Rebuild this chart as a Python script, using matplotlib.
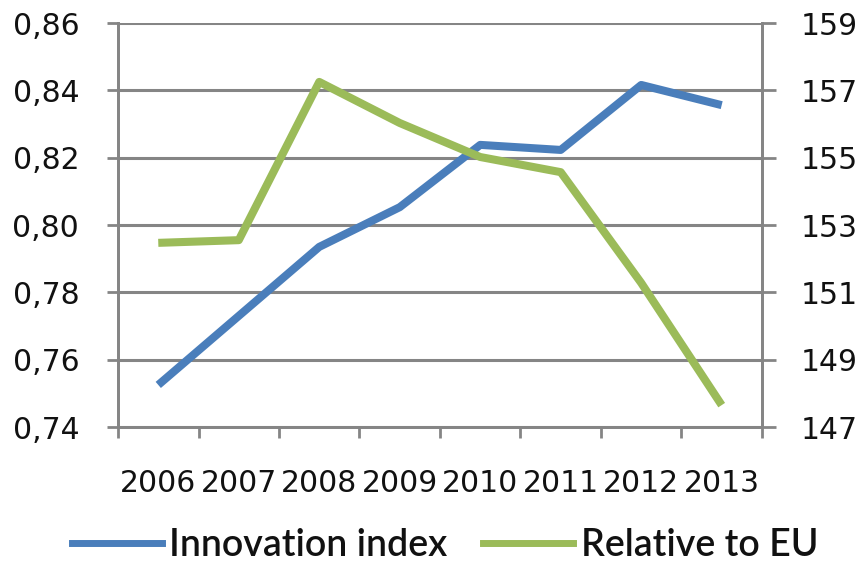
import matplotlib
matplotlib.use("Agg")
from matplotlib import pyplot as plt
from matplotlib.lines import Line2D

# data
years = ["2006", "2007", "2008", "2009", "2010", "2011", "2012", "2013"]
innovation_index = [0.7525, 0.7730, 0.7935, 0.8053, 0.8238, 0.8223, 0.8416, 0.8356]
relative_to_eu = [152.47, 152.55, 157.25, 156.03, 155.02, 154.57, 151.28, 147.65]

left_ticks = [0.74, 0.76, 0.78, 0.80, 0.82, 0.84, 0.86]
right_ticks = [147, 149, 151, 153, 155, 157, 159]

blue = "#4a7ebb"
green = "#9bbb59"
grid_gray = "#858585"
text_col = "#111111"

plt.rcParams['font.family'] = ['DejaVu Sans']

fig = plt.figure(figsize=(8.59, 5.64), dpi=100)
ax = fig.add_axes([0.1374, 0.2429, 0.7496, 0.7163])
ax2 = ax.twinx()

x = [i + 0.5 for i in range(len(years))]

ax.set_xlim(0, len(years))
ax.set_ylim(left_ticks[0], left_ticks[-1])
ax2.set_ylim(right_ticks[0], right_ticks[-1])

# gridlines
for v in left_ticks:
    ax.axhline(v, color=grid_gray, lw=2.2, zorder=1)

ax.plot(x, innovation_index, color=blue, lw=5.8, solid_capstyle="butt", zorder=3)
ax2.plot(x, relative_to_eu, color=green, lw=5.8, solid_capstyle="butt", zorder=3)

# ticks
ax.set_yticks(left_ticks)
ax.set_yticklabels(["{:.2f}".format(v).replace(".", ",") for v in left_ticks])
ax2.set_yticks(right_ticks)
ax2.set_yticklabels([str(v) for v in right_ticks])

ax.set_xticks(range(len(years) + 1))
ax.set_xticklabels([])
ax.set_xticks(x, minor=True)
ax.set_xticklabels(years, minor=True)

ax.tick_params(axis="y", length=8, width=2, color=grid_gray, pad=20,
               labelsize=21.5, labelcolor=text_col)
ax2.tick_params(axis="y", length=10, width=2, color=grid_gray, pad=18,
                labelsize=21.5, labelcolor=text_col)
ax.tick_params(axis="x", which="major", length=8, width=2, color=grid_gray)
ax.tick_params(axis="x", which="minor", length=0, pad=30, labelsize=21.5,
               labelcolor=text_col)

for a in (ax, ax2):
    a.spines["top"].set_visible(False)
    for s in ("left", "right", "bottom"):
        a.spines[s].set_color(grid_gray)
        a.spines[s].set_linewidth(2)
ax2.set_zorder(ax.get_zorder() + 1)
ax2.patch.set_visible(False)

handles = [Line2D([], [], color=blue, lw=5),
           Line2D([], [], color=green, lw=5)]
leg = fig.legend(handles, ["Innovation index", "Relative to EU"],
                 loc="center", bbox_to_anchor=(0.518, 0.032), ncol=2, frameon=False,
                 handlelength=2.4, handletextpad=0.2, columnspacing=0.95,
                 prop={"family": "Lato", "size": 27, "weight": "semibold"})
for t in leg.get_texts():
    t.set_color(text_col)

fig.savefig("out.png", dpi=100, facecolor="white")
